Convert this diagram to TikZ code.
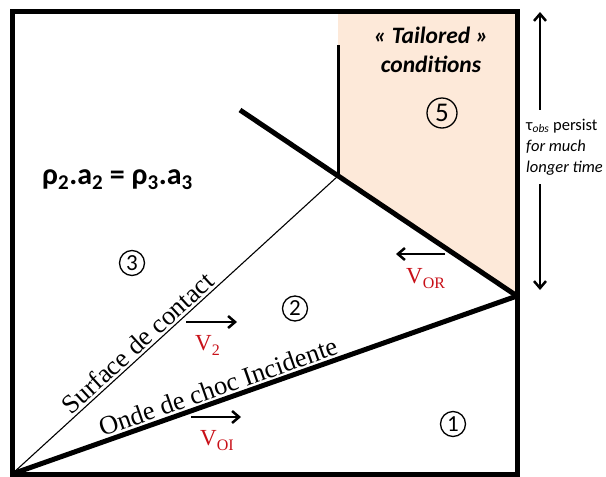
\documentclass[tikz,border=0pt]{standalone}
\usepackage{fontspec}
\setmainfont{Liberation Serif}
\newfontfamily\calibri{Carlito}
\usetikzlibrary{arrows.meta}
\definecolor{tailored}{RGB}{253,233,217}
\definecolor{velred}{RGB}{200,16,24}
\newcommand\velsub[1]{\raisebox{-5pt}{\fontsize{16}{16}\selectfont #1}}

\begin{document}
\begin{tikzpicture}[x=1pt, y=-1pt,
  shock/.style={line width=5pt},
  vel/.style={line width=2.5pt, -{Straight Barb[length=7pt,width=12pt]}},
  zone/.style={circle, draw, line width=1.3pt, minimum size=25pt, inner sep=0pt, font=\calibri\fontsize{23}{23}\selectfont},
  vlabel/.style={color=velred, font=\fontsize{23}{23}\selectfont, anchor=base west, inner sep=0pt},
  wavelabel/.style={sloped, above, inner sep=2pt, font=\fontsize{26.5}{26.5}\selectfont}]
  \useasboundingbox (0,0) rectangle (606,477);

  %% main points of the wave diagram
  \coordinate (O) at (12,474);
  \coordinate (W) at (517,296);
  \coordinate (R) at (338,176);
  \coordinate (Rend) at (240,110);
  \coordinate (Ctop) at (338,45);

  %% region 5
  \fill[tailored] (R) -- (R |- 0,11.5) -- (517,11.5) -- (W) -- cycle;
  \draw[line width=5pt] (12,11.5) rectangle (517,474);

  %% waves
  \draw[line width=3pt] (Ctop) -- (R);
  \draw[shock] (Rend) -- (W);
  \draw[shock] (O) -- (W) node[wavelabel, pos=0.417] (incident) {Onde de choc Incidente};
  \draw[line width=1.1pt] (O) -- (R) node[wavelabel, pos=0.41] (contact) {Surface de contact};

  %% zones
  \node[zone] (z1) at (453,424) {1};
  \node[zone] (z2) at (295,308.5) {2};
  \node[zone] (z3) at (132,263) {3};
  \node[zone, minimum size=30pt, font=\calibri\fontsize{27}{27}\selectfont] (z5) at (442,113) {5};

  \node[font=\calibri\bfseries\fontsize{30}{30}\selectfont, anchor=base west, inner sep=0pt] (eq) at (42,184)
    {ρ\textsubscript{2}.a\textsubscript{2} = ρ\textsubscript{3}.a\textsubscript{3}};
  \node[font=\calibri\bfseries\itshape\fontsize{23.5}{29}\selectfont, align=center] (tail) at (431,50)
    {«~Tailored~»\\conditions};

  %% velocities
  \coordinate (vORa) at (445,254);
  \coordinate (vORb) at (396,254);
  \coordinate (v2a) at (186,322);
  \coordinate (v2b) at (237,322);
  \coordinate (vOIa) at (191,417);
  \coordinate (vOIb) at (241,417);
  \draw[vel] (vORa) -- (vORb);
  \draw[vel] (v2a) -- (v2b);
  \draw[vel] (vOIa) -- (vOIb);
  \node[vlabel] (vOR) at (406,283) {V\velsub{OR}};
  \node[vlabel] (v2) at (195,350) {V\velsub{2}};
  \node[vlabel] (vOI) at (200,445) {V\velsub{OI}};

  %% observation time
  \coordinate (tauTop) at (540,12);
  \coordinate (tauBot) at (540,290);
  \node[font=\calibri\fontsize{16.5}{21}\selectfont, align=left, anchor=west, inner xsep=0pt, inner ysep=9pt] (tau) at (526,147)
    {τ\textsubscript{\itshape obs} persist\\\itshape for much\\\itshape longer time};
  \draw[vel] (tau.north -| tauTop) -- (tauTop);
  \draw[vel] (tau.south -| tauBot) -- (tauBot);
\end{tikzpicture}
\end{document}
